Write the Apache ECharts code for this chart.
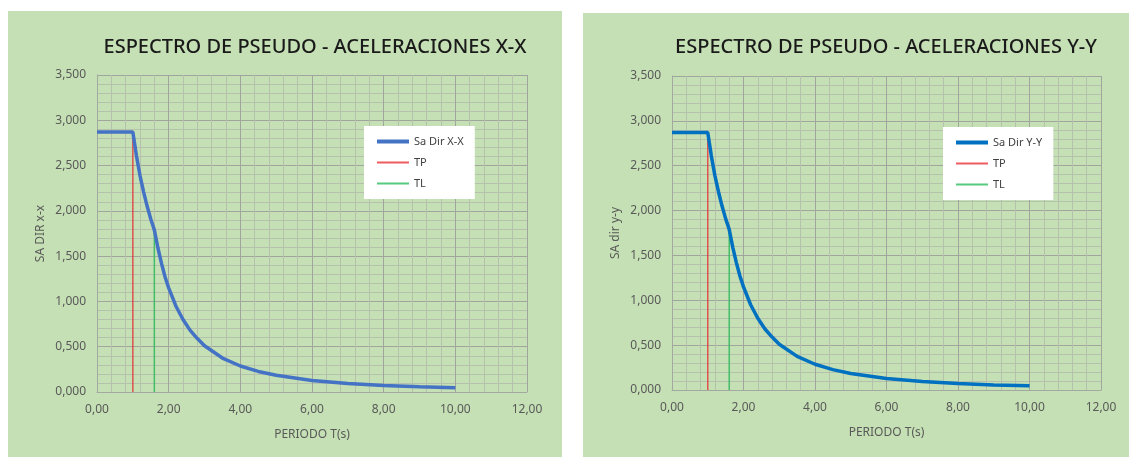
<!DOCTYPE html>
<html>
<head>
<meta charset="utf-8">
<script src="https://cdn.jsdelivr.net/npm/echarts@6/dist/echarts.min.js"></script>
<style>
  html, body { margin: 0; padding: 0; background: #ffffff; }
  #chart { width: 1129px; height: 457px; }
</style>
</head>
<body>
<div id="chart"></div>
<script>
// Periods T (s) at which the spectrum is sampled
const periods = [0, 0.2, 0.4, 0.6, 0.8, 1.0, 1.1, 1.2, 1.3, 1.4, 1.5, 1.6, 1.7, 1.8, 1.9, 2.0,
                 2.2, 2.4, 2.6, 2.8, 3.0, 3.5, 4.0, 4.5, 5.0, 6.0, 7.0, 8.0, 9.0, 10.0];
// Pseudo-acceleration Sa, direction X-X
const saDirX = [2.87, 2.87, 2.87, 2.87, 2.87, 2.87, 2.61, 2.39, 2.21, 2.05, 1.91, 1.79, 1.59, 1.42, 1.27, 1.15,
                0.95, 0.80, 0.68, 0.59, 0.51, 0.375, 0.287, 0.227, 0.184, 0.128, 0.094, 0.072, 0.057, 0.046];
// Pseudo-acceleration Sa, direction Y-Y
const saDirY = [2.87, 2.87, 2.87, 2.87, 2.87, 2.87, 2.61, 2.39, 2.21, 2.05, 1.91, 1.79, 1.59, 1.42, 1.27, 1.15,
                0.95, 0.80, 0.68, 0.59, 0.51, 0.375, 0.287, 0.227, 0.184, 0.128, 0.094, 0.072, 0.057, 0.046];
// Vertical marker lines: TP and TL periods
const tpT = [1.0, 1.0];
const tpSa = [0, 2.87];
const tlT = [1.6, 1.6];
const tlSa = [0, 1.79];

const titles = ['ESPECTRO DE PSEUDO - ACELERACIONES X-X', 'ESPECTRO DE PSEUDO - ACELERACIONES Y-Y'];
const yNames = ['SA DIR x-x', 'SA dir y-y'];
const xName = 'PERIODO T(s)';
const seriesNames = ['Sa Dir X-X', 'Sa Dir Y-Y'];
const curveColors = ['#4472C4', '#0070C0'];

const pairs = (xs, ys) => xs.map((x, i) => [x, ys[i]]);

const FONT = "'Noto Sans', 'Liberation Sans', sans-serif";
const tickColor = '#595959';

const grids = [
  { left: 97, top: 75, width: 430, height: 317 },
  { left: 672, top: 76, width: 429, height: 314 }
];
const titlePos = [310, 881];
const legendPos = [{ left: 364, top: 126 }, { left: 943, top: 127 }];

function xAxisFor(i) {
  return {
    type: 'value', gridIndex: i, min: 0, max: 12, interval: 2,
    name: xName, nameLocation: 'middle', nameGap: 37,
    nameTextStyle: { color: tickColor, fontSize: 12, fontFamily: FONT },
    axisLine: { show: true, lineStyle: { color: '#a3a8a0' } },
    axisTick: { show: false },
    minorTick: { show: false, splitNumber: 5 },
    axisLabel: { color: tickColor, fontSize: 12, fontFamily: FONT, margin: 12,
                 formatter: v => v.toFixed(2).replace('.', ',') },
    splitLine: { show: true, lineStyle: { color: '#a0a69d', width: 1 } },
    minorSplitLine: { show: true, lineStyle: { color: '#b5c1ac', width: 1 } }
  };
}
function yAxisFor(i) {
  return {
    type: 'value', gridIndex: i, min: 0, max: 3.5, interval: 0.5,
    name: yNames[i], nameLocation: 'middle', nameGap: 50, nameRotate: 90,
    nameTextStyle: { color: tickColor, fontSize: 12, fontFamily: FONT },
    axisLine: { show: true, lineStyle: { color: '#a3a8a0' } },
    axisTick: { show: false },
    minorTick: { show: false, splitNumber: 5 },
    axisLabel: { color: tickColor, fontSize: 12, fontFamily: FONT, margin: 11,
                 formatter: v => v.toFixed(3).replace('.', ',') },
    splitLine: { show: true, lineStyle: { color: '#a0a69d', width: 1 } },
    minorSplitLine: { show: true, lineStyle: { color: '#b5c1ac', width: 1 } }
  };
}

const curves = [saDirX, saDirY];
const series = [];
const legends = [];
for (let i = 0; i < 2; i++) {
  series.push({
    name: seriesNames[i], type: 'line', xAxisIndex: i, yAxisIndex: i,
    data: pairs(periods, curves[i]), showSymbol: false, symbol: 'none', z: 5,
    lineStyle: { color: curveColors[i], width: 3.5 }, itemStyle: { color: curveColors[i] }
  });
  series.push({
    name: 'TP', type: 'line', xAxisIndex: i, yAxisIndex: i,
    data: pairs(tpT, tpSa), showSymbol: false, symbol: 'none', z: 4,
    lineStyle: { color: '#e8242c', width: 1.5, opacity: 0.75 }, itemStyle: { color: '#e8242c' }
  });
  series.push({
    name: 'TL', type: 'line', xAxisIndex: i, yAxisIndex: i,
    data: pairs(tlT, tlSa), showSymbol: false, symbol: 'none', z: 4,
    lineStyle: { color: '#1db954', width: 1.5, opacity: 0.75 }, itemStyle: { color: '#1db954' }
  });
  // each legend lists only its own chart's curve plus the two markers
  legends.push({
    orient: 'vertical', left: legendPos[i].left, top: legendPos[i].top,
    itemWidth: 32, itemHeight: 12, itemGap: 10,
    padding: [10, 11, 10, 11], backgroundColor: '#ffffff',
    itemStyle: { opacity: 0 },
    textStyle: { color: '#404040', fontSize: 11, fontFamily: FONT },
    data: [
      { name: seriesNames[i], lineStyle: { width: 4 } },
      { name: 'TP' }, { name: 'TL' }
    ],
    selectedMode: false
  });
}

const chart = echarts.init(document.getElementById('chart'), null, { renderer: 'canvas' });
chart.setOption({
  animation: false,
  backgroundColor: '#ffffff',
  graphic: [
    { type: 'rect', shape: { x: 8, y: 11, width: 554, height: 446 }, style: { fill: '#c5e0b4' }, z: -10 },
    { type: 'rect', shape: { x: 583, y: 13, width: 546, height: 444 }, style: { fill: '#c5e0b4' }, z: -10 }
  ],
  title: titles.map((t, i) => ({
    text: t, left: titlePos[i], top: 32, textAlign: 'center',
    textStyle: { color: '#1a1a1a', fontSize: 20, fontWeight: 500, fontFamily: FONT }
  })),
  legend: legends,
  grid: grids,
  xAxis: [xAxisFor(0), xAxisFor(1)],
  yAxis: [yAxisFor(0), yAxisFor(1)],
  series: series
});
</script>
</body>
</html>
